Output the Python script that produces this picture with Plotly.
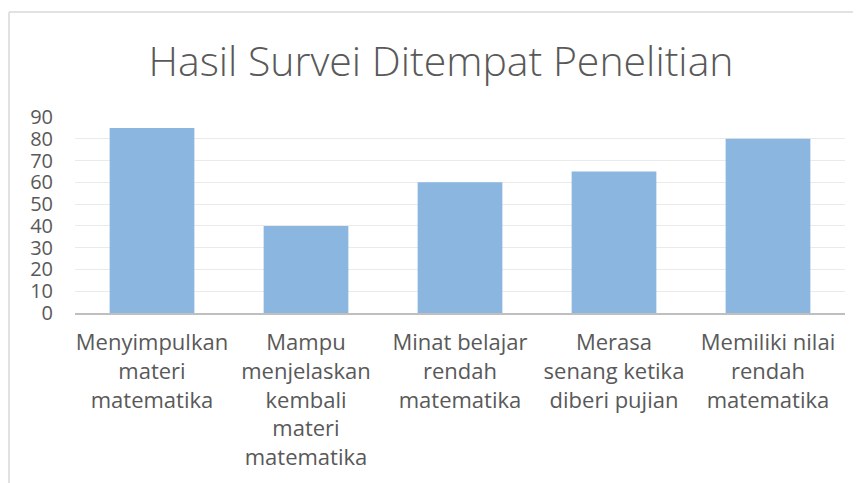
import plotly.graph_objects as go

categories = [
    "Menyimpulkan<br>materi<br>matematika",
    "Mampu<br>menjelaskan<br>kembali<br>materi<br>matematika",
    "Minat belajar<br>rendah<br>matematika",
    "Merasa<br>senang ketika<br>diberi pujian",
    "Memiliki nilai<br>rendah<br>matematika",
]
values = [85, 40, 60, 65, 80]
y_ticks = [0, 10, 20, 30, 40, 50, 60, 70, 80, 90]

OFF = 8  # page body margin
W, H = 861 - OFF, 483 - OFF
L, R, T, B = 75 - OFF, 16, 117 - OFF, 483 - 313

def px_x(px):
    return (px - OFF - L) / (W - L - R)

def px_y(py):
    return (H - B - (py - OFF)) / (H - T - B)

fig = go.Figure(go.Bar(x=categories, y=values, marker_color="#8AB6E0",
                       marker_line_width=0))

fig.update_layout(
    width=W, height=H,
    margin=dict(l=L, r=R, t=T, b=B, autoexpand=False),
    paper_bgcolor="white", plot_bgcolor="white",
    font=dict(family="Open Sans", color="#595959"),
    title=dict(text="Hasil Survei Ditempat Penelitian", x=px_x(441), xref="paper",
               xanchor="center", y=1 - (62 - OFF) / H, yanchor="middle",
               font=dict(size=41, color="#595959", family="Open Sans", weight=300)),
    bargap=0.45,
    showlegend=False,
    shapes=[
        dict(type="line", xref="paper", yref="paper", x0=px_x(9), x1=px_x(875),
             y0=px_y(12), y1=px_y(12), line=dict(color="#D9D9D9", width=1.5)),
        dict(type="line", xref="paper", yref="paper", x0=px_x(9), x1=px_x(9),
             y0=px_y(12), y1=px_y(490), line=dict(color="#D9D9D9", width=1.5)),
    ],
)
fig.update_yaxes(range=[0, 90], tickvals=y_ticks, showgrid=True, gridcolor="#EAEAEA",
                 gridwidth=1.3, zeroline=False, showline=False,
                 tickfont=dict(size=20, color="#595959"), ticks="", ticklabelstandoff=21)
fig.update_xaxes(showline=True, linecolor="#BFBFBF", linewidth=2, ticks="",
                 tickfont=dict(size=22, color="#595959"), tickangle=0,
                 ticklabelstandoff=9)

fig.write_html("out.html")
